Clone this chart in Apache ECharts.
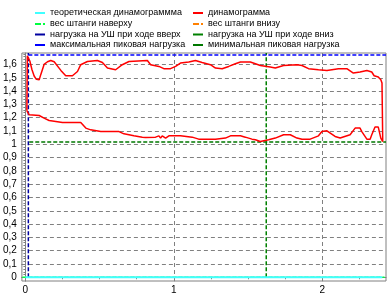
<!DOCTYPE html>
<html><head><meta charset="utf-8">
<script src="https://cdn.jsdelivr.net/npm/echarts@6/dist/echarts.min.js"></script>
<style>html,body{margin:0;padding:0;background:#fff}#c{width:391px;height:300px}</style>
</head><body><div id="c"></div>
<script>
// ---- data ----
var legendNames = ['теоретическая динамограммма','динамограмма','вес штанги наверху','вес штанги внизу',
  'нагрузка на УШ при ходе вверх','нагрузка на УШ при ходе вниз','максимальная пиковая нагрузка','минимальная пиковая нагрузка'];
var xTickLabels = [0, 1, 2];
var yTickLabels = [0,0.1,0.2,0.3,0.4,0.5,0.6,0.7,0.8,0.9,1,1.1,1.2,1.3,1.4,1.5,1.6];

// dynamogram loop (upper stroke then lower stroke back)
var dynoX = [0.010,0.013,0.022,0.030,0.044,0.059,0.074,0.093,0.104,0.126,0.149,0.171,0.194,0.205,0.239,0.272,0.317,0.351,0.373,0.418,0.485,0.519,0.553,0.608,0.653,0.698,0.822,0.844,0.900,0.933,0.978,1.012,1.045,1.101,1.146,1.191,1.247,1.281,1.326,1.370,1.415,1.449,1.516,1.550,1.583,1.650,1.684,1.740,1.830,1.864,1.908,1.975,2.032,2.110,2.166,2.210,2.255,2.301,2.334,2.350,2.378,2.395,2.403,2.408,
  2.395,2.378,2.356,2.334,2.323,2.301,2.267,2.255,2.222,2.188,2.121,2.087,2.032,1.998,1.975,1.919,1.864,1.830,1.785,1.740,1.684,1.639,1.583,1.550,1.527,1.482,1.449,1.382,1.348,1.281,1.269,1.168,1.124,1.045,0.967,0.945,0.922,0.911,0.900,0.877,0.810,0.788,0.731,0.698,0.664,0.631,0.508,0.440,0.407,0.373,0.250,0.205,0.160,0.126,0.093,0.026,0.015,0.010];
var dynoY = [1.252,1.666,1.670,1.627,1.563,1.514,1.489,1.486,1.526,1.601,1.621,1.631,1.621,1.611,1.556,1.516,1.516,1.548,1.599,1.623,1.631,1.616,1.574,1.561,1.599,1.623,1.631,1.599,1.586,1.569,1.569,1.586,1.611,1.619,1.631,1.616,1.599,1.574,1.569,1.586,1.606,1.619,1.619,1.606,1.593,1.581,1.574,1.593,1.599,1.593,1.569,1.561,1.556,1.569,1.569,1.536,1.544,1.556,1.544,1.516,1.506,1.486,1.461,1.021,
  1.047,1.130,1.130,1.072,1.039,1.039,1.096,1.122,1.122,1.072,1.047,1.059,1.102,1.096,1.064,1.039,1.039,1.047,1.072,1.072,1.047,1.034,1.021,1.034,1.039,1.054,1.064,1.064,1.047,1.039,1.034,1.039,1.054,1.064,1.064,1.047,1.064,1.047,1.064,1.054,1.051,1.054,1.064,1.072,1.079,1.096,1.096,1.109,1.122,1.164,1.164,1.172,1.179,1.197,1.217,1.222,1.235,1.252];

var theoX = [0, 2.405], theoY = [0, 0];
var weightUpX = [-0.02, 2.42], weightUpY = [0, 0];
var weightDownX = [0, 2.405], weightDownY = [0, 0];
var loadUpX = [0.02, 0.02], loadUpY = [0, 1.687];
var loadDownX = [1.623, 1.623], loadDownY = [0, 1.687];
var maxPeakX = [0.02, 2.43], maxPeakY = [1.672, 1.672];
var minPeakX = [0.026, 2.43], minPeakY = [1.018, 1.018];

function pairs(xs, ys){ return xs.map(function(x,i){ return [x, ys[i]]; }); }

var xMinor = [], yMinor = [];
for (var i = 1; i <= 9; i++) { if (i % 4) xMinor.push(i * 0.25); }
for (var j = 0; j <= 84; j++) { if (j % 5) yMinor.push(Math.round(j * 2) / 100); }

var XMIN = -0.0235, XMAX = 2.43, YMIN = -0.028, YMAX = 1.687;
var gray = '#808080';
var font = 'Liberation Sans';

var colors = ['#40ffff','#ff0000','#00ff40','#ff8000','#0000a0','#008000','#0000ff','#007800'];
var icons = ['rect','rect','path://M0,0h6v2h-6z M8,0h2v2h-2z','path://M0,0h6v2h-6z M8,0h2v2h-2z','rect','rect','rect','rect'];
var legPos = [[35,8.5],[193,8.5],[35,19.5],[193,19.5],[35,30],[193,30],[35,40.5],[193,40.5]];

var legends = legendNames.map(function(n, k){
  return { data:[n], left:legPos[k][0], top:legPos[k][1], padding:0, itemWidth:10, itemHeight:2,
    icon: icons[k], selectedMode:false, textStyle:{fontFamily:font, fontSize:9, color:'#000'} };
});

function lineSeries(name, data, color, dashed, width, z){
  return { name:name, type:'line', data:data, symbol:'none', showSymbol:false, z:z, silent:true,
    color: color, lineStyle:{color:color, width:width, type: dashed ? [4,2] : 'solid'}, animation:false };
}

var option = {
  animation:false,
  legend: legends,
  grid: { left:21, right:5, top:53, bottom:19, show:true, borderColor:gray, borderWidth:1, backgroundColor:'transparent' },
  xAxis: [
    { type:'value', min:XMIN, max:XMAX, position:'bottom',
      axisLine:{show:true, lineStyle:{color:gray}},
      axisTick:{show:true, customValues:xTickLabels, length:4, lineStyle:{color:gray}},
      axisLabel:{customValues:xTickLabels, margin:4, fontFamily:font, fontSize:10, color:'#000'},
      splitLine:{show:true, lineStyle:{color:gray, type:[4,3]}} },
    { type:'value', min:XMIN, max:XMAX, position:'bottom',
      axisLine:{show:false}, axisTick:{show:true, customValues:xMinor, length:2, lineStyle:{color:gray}},
      axisLabel:{show:false}, splitLine:{show:false} }
  ],
  yAxis: [
    { type:'value', min:YMIN, max:YMAX, position:'left',
      axisLine:{show:true, lineStyle:{color:gray}},
      axisTick:{show:true, customValues:yTickLabels, length:4, lineStyle:{color:gray}},
      axisLabel:{customValues:yTickLabels, margin:5, fontFamily:font, fontSize:10, color:'#000',
        formatter:function(v){ return String(Math.round(v*10)/10).replace('.', ','); }},
      splitLine:{show:true, lineStyle:{color:gray, type:[4,3]}} },
    { type:'value', min:YMIN, max:YMAX, position:'left',
      axisLine:{show:false}, axisTick:{show:true, customValues:yMinor, length:2, lineStyle:{color:gray}},
      axisLabel:{show:false}, splitLine:{show:false} }
  ],
  series: [
    lineSeries(legendNames[3], pairs(weightDownX, weightDownY), colors[3], true, 1, 2),
    lineSeries(legendNames[2], pairs(weightUpX, weightUpY), colors[2], true, 1.5, 3),
    lineSeries(legendNames[0], pairs(theoX, theoY), colors[0], false, 2, 5),
    lineSeries(legendNames[4], pairs(loadUpX, loadUpY), colors[4], true, 1.5, 4),
    lineSeries(legendNames[5], pairs(loadDownX, loadDownY), colors[5], true, 1.5, 4),
    lineSeries(legendNames[6], pairs(maxPeakX, maxPeakY), colors[6], true, 1.5, 4),
    lineSeries(legendNames[7], pairs(minPeakX, minPeakY), colors[7], true, 1.5, 4),
    lineSeries(legendNames[1], pairs(dynoX, dynoY), colors[1], false, 1.5, 6)
  ]
};
var chart = echarts.init(document.getElementById('c'), null, {renderer:'canvas'});
chart.setOption(option);
</script></body></html>
